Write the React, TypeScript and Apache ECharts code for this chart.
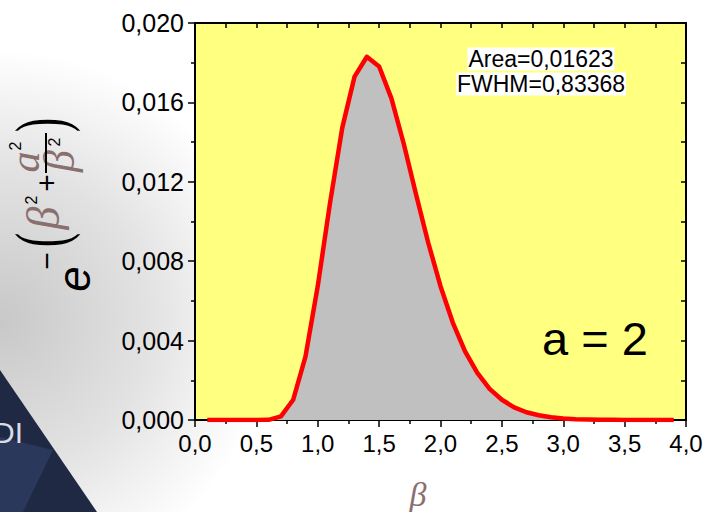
import React, { useEffect, useRef } from "react";
import * as echarts from "echarts";

// β values (x) and the plotted signal (y)
const betaValues = [
  0.1, 0.2, 0.3, 0.4, 0.5, 0.6, 0.7, 0.8, 0.9, 1.0,
  1.1, 1.2, 1.3, 1.4, 1.5, 1.6, 1.7, 1.8, 1.9, 2.0,
  2.1, 2.2, 2.3, 2.4, 2.5, 2.6, 2.7, 2.8, 2.9, 3.0,
  3.1, 3.2, 3.3, 3.4, 3.5, 3.6, 3.7, 3.8, 3.9,
];
const signalValues = [
  0, 0, 0, 0, 0, 0.00001, 0.00018, 0.00102, 0.00319, 0.00674,
  0.01093, 0.01473, 0.0173, 0.0183, 0.01781, 0.0162, 0.01393, 0.01139, 0.00893, 0.00674,
  0.00491, 0.00346, 0.00237, 0.00157, 0.00102, 0.00064, 0.00039, 0.00024, 0.00014, 0.00008,
  0.00004, 0.00002, 0.00001, 0.00001, 0, 0, 0, 0, 0,
];
const xTickLabels = ["0,0", "0,5", "1,0", "1,5", "2,0", "2,5", "3,0", "3,5", "4,0"];
const yTickLabels = ["0,000", "0,004", "0,008", "0,012", "0,016", "0,020"];
const annotationLines = ["Area=0,01623", "FWHM=0,83368"];
const parameterLabel = "a = 2";
const xAxisTitle = "β";

const SANS = "Liberation Sans, Arial, sans-serif";
const SERIF = "Liberation Serif, Times New Roman, serif";
const BROWN = "#8a6f6f";
const ROT = Math.PI / 2;

function rotText(x: number, y: number, text: string, opts: any, extra: any = {}) {
  return {
    type: "text",
    x,
    y,
    rotation: ROT,
    z: 100,
    ...extra,
    style: {
      text,
      align: "center",
      verticalAlign: "middle",
      fill: "#000",
      fontFamily: SANS,
      ...opts,
    },
  };
}

export default function App() {
  const ref = useRef<HTMLDivElement>(null);

  useEffect(() => {
    if (!ref.current) return;
    const chart = echarts.init(ref.current, null, { renderer: "svg" });

    const axisLineStyle = { color: "#000", width: 2 };
    const tickStyle = { color: "#000", width: 1.5 };

    const annotationStyle = {
      fill: "#000",
      fontFamily: SANS,
      fontSize: 23,
      align: "center",
      verticalAlign: "middle",
      backgroundColor: "#ffffff",
      padding: [0, 1, 0, 1],
    };

    const option: any = {
      animation: false,
      backgroundColor: "#ffffff",
      grid: {
        left: 195,
        top: 23,
        right: 20,
        bottom: 92,
        show: true,
        backgroundColor: "#ffff80",
        borderWidth: 0,
      },
      xAxis: [
        {
          type: "value",
          min: 0,
          max: 4,
          interval: 0.5,
          position: "bottom",
          axisLine: { show: true, onZero: false, lineStyle: axisLineStyle },
          axisTick: { show: true, length: 7, lineStyle: tickStyle },
          minorTick: { show: true, splitNumber: 2, length: 4, lineStyle: tickStyle },
          splitLine: { show: false },
          axisLabel: {
            fontFamily: SANS,
            fontSize: 24,
            color: "#000",
            margin: 11,
            formatter: (v: number) => xTickLabels[Math.round(v / 0.5)] ?? "",
          },
        },
        {
          type: "value",
          min: 0,
          max: 4,
          interval: 0.5,
          position: "top",
          axisLine: { show: true, onZero: false, lineStyle: axisLineStyle },
          axisTick: { show: true, inside: true, length: 5, lineStyle: tickStyle },
          minorTick: { show: true, splitNumber: 2, length: 5, lineStyle: tickStyle },
          splitLine: { show: false },
          axisLabel: { show: false },
        },
      ],
      yAxis: [
        {
          type: "value",
          min: 0,
          max: 0.02,
          interval: 0.004,
          position: "left",
          axisLine: { show: true, onZero: false, lineStyle: axisLineStyle },
          axisTick: { show: true, length: 7, lineStyle: tickStyle },
          minorTick: { show: true, splitNumber: 2, length: 4, lineStyle: tickStyle },
          splitLine: { show: false },
          axisLabel: {
            fontFamily: SANS,
            fontSize: 25,
            color: "#000",
            margin: 11,
            formatter: (v: number) => yTickLabels[Math.round(v / 0.004)] ?? "",
          },
        },
        {
          type: "value",
          min: 0,
          max: 0.02,
          interval: 0.004,
          position: "right",
          axisLine: { show: true, onZero: false, lineStyle: axisLineStyle },
          axisTick: { show: true, inside: true, length: 5, lineStyle: tickStyle },
          minorTick: { show: true, splitNumber: 2, length: 5, lineStyle: tickStyle },
          splitLine: { show: false },
          axisLabel: { show: false },
        },
      ],
      series: [
        {
          type: "line",
          xAxisIndex: 0,
          yAxisIndex: 0,
          data: betaValues.map((b, i) => [b, signalValues[i]]),
          showSymbol: false,
          symbol: "none",
          smooth: false,
          lineStyle: { color: "#ff0000", width: 4.5, join: "round" },
          areaStyle: { color: "#c0c0c0", opacity: 1 },
          z: 3,
        },
      ],
      graphic: [
        // background shading (covered by the plot area on the right)
        {
          type: "rect",
          z: -10,
          shape: { x: 0, y: 0, width: 706, height: 512 },
          style: {
            fill: {
              type: "radial",
              x: 0,
              y: 320,
              r: 270,
              global: true,
              colorStops: [
                { offset: 0, color: "#c8c8c8" },
                { offset: 0.55, color: "#e2e2e2" },
                { offset: 1, color: "#ffffff" },
              ],
            },
          },
        },
        {
          type: "polygon",
          z: -5,
          shape: { points: [[0, 370], [97, 512], [0, 512]] },
          style: { fill: "#1f2944" },
        },
        {
          type: "polygon",
          z: -4,
          shape: { points: [[0, 437], [53, 450], [23, 512], [0, 512]] },
          style: { fill: "#29385b" },
        },
        {
          type: "text",
          z: -3,
          x: -7,
          y: 432,
          style: {
            text: "DI",
            fill: "#d9dce3",
            fontFamily: SANS,
            fontSize: 30,
            verticalAlign: "middle",
            align: "left",
          },
        },
        // y-axis title: e^{-(β² + a²/β²)} rotated
        rotText(74, 279, "e", { fontSize: 46, fontStyle: "italic" }),
        rotText(46, 261, "−", { fontSize: 30 }),
        rotText(41, 240, "(", { fontSize: 72, fontFamily: SERIF }, { scaleX: 0.6 }),
        rotText(43, 218, "β", { fontSize: 46, fontStyle: "italic", fontFamily: SERIF, fill: BROWN }),
        rotText(31, 200, "2", { fontSize: 16 }),
        rotText(46, 183, "+", { fontSize: 30 }),
        rotText(59.5, 161, "β", { fontSize: 44, fontStyle: "italic", fontFamily: SERIF, fill: BROWN }),
        rotText(54, 142, "2", { fontSize: 16 }),
        rotText(25, 162, "a", { fontSize: 42, fontStyle: "italic", fontFamily: SERIF, fill: BROWN }),
        rotText(15, 146, "2", { fontSize: 16 }),
        {
          type: "line",
          z: 100,
          shape: { x1: 46, y1: 133, x2: 46, y2: 173 },
          style: { stroke: "#000", lineWidth: 2 },
        },
        rotText(41, 125, ")", { fontSize: 72, fontFamily: SERIF }, { scaleX: 0.6 }),
        // x-axis title
        {
          type: "text",
          z: 100,
          x: 418,
          y: 494,
          style: {
            text: xAxisTitle,
            fill: BROWN,
            fontFamily: SERIF,
            fontStyle: "italic",
            fontSize: 34,
            align: "center",
            verticalAlign: "middle",
          },
        },
        // annotations
        {
          type: "text",
          z: 100,
          x: 541,
          y: 59,
          style: { ...annotationStyle, text: annotationLines[0] },
        },
        {
          type: "text",
          z: 100,
          x: 541,
          y: 84,
          style: { ...annotationStyle, text: annotationLines[1] },
        },
        {
          type: "text",
          z: 100,
          x: 595,
          y: 338,
          style: {
            text: parameterLabel,
            fill: "#000",
            fontFamily: SANS,
            fontSize: 47,
            align: "center",
            verticalAlign: "middle",
          },
        },
      ],
    };

    chart.setOption(option);
    return () => chart.dispose();
  }, []);

  return (
    <div
      ref={ref}
      style={{ position: "absolute", left: 0, top: 0, width: 706, height: 512 }}
    />
  );
}
